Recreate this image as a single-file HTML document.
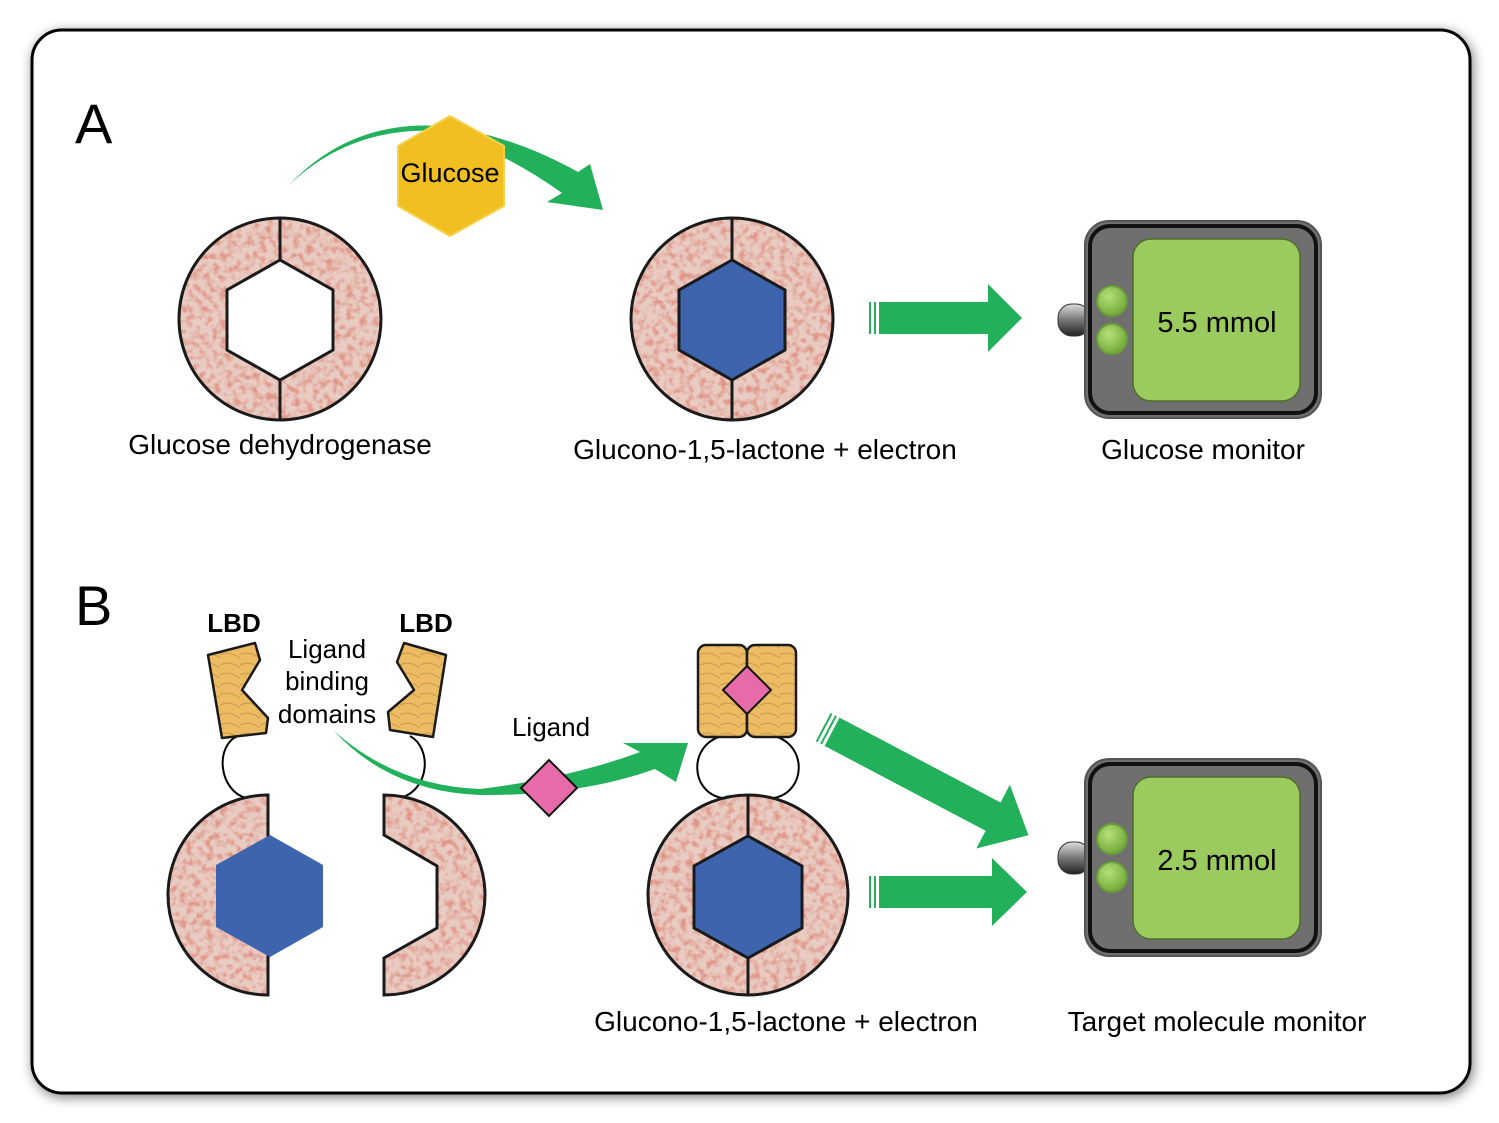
<!DOCTYPE html>
<html><head><meta charset="utf-8"><style>
html,body{margin:0;padding:0;background:#fff;}
svg{display:block;}
text{font-family:"Liberation Sans",Arial,sans-serif;fill:#000;}
</style></head><body>
<svg width="1499" height="1123" viewBox="0 0 1499 1123" xmlns="http://www.w3.org/2000/svg">
<defs>
<filter id="sh" x="-5%" y="-5%" width="110%" height="110%"><feGaussianBlur in="SourceAlpha" stdDeviation="6"/><feOffset dx="2" dy="3"/><feComponentTransfer><feFuncA type="linear" slope="0.5"/></feComponentTransfer><feMerge><feMergeNode/><feMergeNode in="SourceGraphic"/></feMerge></filter>
<filter id="tex" x="0" y="0" width="100%" height="100%"><feTurbulence type="fractalNoise" baseFrequency="0.15" numOctaves="2" seed="3"/><feColorMatrix type="matrix" values="0 0 0 0 0.75  0 0 0 0 0.30  0 0 0 0 0.24  0 0 0 -3 1.7"/></filter>
<pattern id="ring" patternUnits="userSpaceOnUse" width="1499" height="1123"><rect width="1499" height="1123" fill="#e8cbc2"/><rect width="1499" height="1123" fill="#c55c47" filter="url(#tex)"/></pattern>
<pattern id="lbd" patternUnits="userSpaceOnUse" width="20" height="20"><rect width="20" height="20" fill="#ecbb62"/><path d="M0 5 Q10 0 20 8 M0 15 Q8 10 20 18" stroke="#a07a40" stroke-width="1" fill="none" opacity="0.5"/></pattern>
<linearGradient id="plug" x1="0" y1="0" x2="0" y2="1"><stop offset="0" stop-color="#ddd"/><stop offset="0.5" stop-color="#777"/><stop offset="1" stop-color="#222"/></linearGradient>
<radialGradient id="btn" cx="0.4" cy="0.35" r="0.7"><stop offset="0" stop-color="#b6e07a"/><stop offset="1" stop-color="#6da533"/></radialGradient>
<g id="monitor">
<rect x="1058" y="83" width="32" height="32" rx="14" fill="url(#plug)" stroke="#333" stroke-width="1"/>
<rect x="1085" y="0" width="236" height="197" rx="24" fill="#6f6f6f" stroke="#555" stroke-width="2"/>
<rect x="1090" y="5" width="226" height="187" rx="20" fill="none" stroke="#111" stroke-width="4"/>
<rect x="1133" y="18" width="167" height="162" rx="18" fill="#9bcb5f" stroke="#4e6d2a" stroke-width="1.5"/>
<circle cx="1112" cy="80" r="15" fill="url(#btn)" stroke="#6a9c3a" stroke-width="2"/>
<circle cx="1112" cy="118" r="15" fill="url(#btn)" stroke="#6a9c3a" stroke-width="2"/>
</g>
</defs>

<rect x="32" y="30" width="1438" height="1063" rx="30" fill="#fff" stroke="#000" stroke-width="3" filter="url(#sh)"/>

<text x="75" y="143" font-size="56">A</text>
<text x="75" y="625" font-size="56">B</text>

<!-- A: ring 1 -->
<path d="M280,218 A101,101 0 1 1 280,420 A101,101 0 1 1 280,218 Z M280,260 L227,290 L227,350 L280,380 L333,350 L333,290 Z" fill="url(#ring)" fill-rule="evenodd" stroke="#1a1a1a" stroke-width="3"/>
<path d="M280,218 V260 M280,380 V420" stroke="#1a1a1a" stroke-width="3"/>

<!-- green curve A -->
<path d="M288,186 Q350,120 440,126 Q510,134 578,172 L590,164 L603,210 L547,202 L562,193 Q505,152 440,131 Q350,126 288,186 Z" fill="#22b05b"/>
<polygon points="450,116 504,146 504,206 450,236 398,206 398,146" fill="#f1bf22" stroke="#f5d24a" stroke-width="2"/>
<text x="450" y="182" font-size="27" text-anchor="middle">Glucose</text>

<!-- A: ring 2 -->
<path d="M732,218 A101,101 0 1 1 732,420 A101,101 0 1 1 732,218 Z" fill="url(#ring)" stroke="#1a1a1a" stroke-width="3"/>
<polygon points="732,260 679,290 679,350 732,380 785,350 785,290" fill="#3f64ae" stroke="#1a1a1a" stroke-width="3"/>
<path d="M732,218 V260 M732,380 V420" stroke="#1a1a1a" stroke-width="3"/>

<!-- arrow A -->
<path d="M879,302 H988 V284 L1022,318 L988,352 V334 H879 Z" fill="#22b05b"/>
<rect x="869" y="302" width="2" height="32" fill="#22b05b"/><rect x="874" y="302" width="2" height="32" fill="#22b05b"/>

<use href="#monitor" transform="translate(0,221)"/>
<text x="1217" y="332" font-size="29" text-anchor="middle">5.5 mmol</text>

<text x="280" y="454" font-size="28" text-anchor="middle">Glucose dehydrogenase</text>
<text x="765" y="459" font-size="28" text-anchor="middle">Glucono-1,5-lactone + electron</text>
<text x="1203" y="459" font-size="28" text-anchor="middle">Glucose monitor</text>

<!-- B left -->
<text x="234" y="632" font-size="26" font-weight="bold" text-anchor="middle">LBD</text>
<text x="426" y="632" font-size="26" font-weight="bold" text-anchor="middle">LBD</text>
<text x="327" y="658" font-size="26" text-anchor="middle">Ligand</text>
<text x="327" y="690" font-size="26" text-anchor="middle">binding</text>
<text x="327" y="723" font-size="26" text-anchor="middle">domains</text>

<path d="M238,736 C215,745 218,790 246,798" fill="none" stroke="#000" stroke-width="2"/>
<path d="M410,736 C432,748 430,790 400,798" fill="none" stroke="#000" stroke-width="2"/>

<polygon points="208,655 255,643 260,660 242,690 268,718 266,733 222,738" fill="url(#lbd)" stroke="#1a1a1a" stroke-width="2.5" stroke-linejoin="round"/>
<polygon points="404,643 446,655 433,737 390,730 388,712 414,690 397,662" fill="url(#lbd)" stroke="#1a1a1a" stroke-width="2.5" stroke-linejoin="round"/>

<path d="M268,795 A100,100 0 0 0 268,995 Z" fill="url(#ring)" stroke="#1a1a1a" stroke-width="3"/>
<polygon points="270,835 323,865 323,927 270,957 216,927 216,865" fill="#3f64ae"/>
<path d="M384,795 A101,100 0 0 1 384,995 L384,958 L437,928 L437,866 L384,835 Z" fill="url(#ring)" stroke="#1a1a1a" stroke-width="3"/>

<!-- ligand arrow -->
<path d="M333,730 Q390,792 480,795 Q580,796 655,769 L676,782 L688,743 L623,743 L640,752 Q570,778 480,789 Q395,786 333,730 Z" fill="#22b05b"/>
<polygon points="549,760 577,788 549,816 521,788" fill="#e76aa9" stroke="#111" stroke-width="2"/>
<text x="551" y="736" font-size="26" text-anchor="middle">Ligand</text>

<!-- bound complex -->
<path d="M722,736 C688,745 690,792 722,798" fill="none" stroke="#000" stroke-width="2"/>
<path d="M774,736 C808,745 806,792 774,798" fill="none" stroke="#000" stroke-width="2"/>
<rect x="698" y="645" width="49" height="92" rx="8" fill="url(#lbd)" stroke="#1a1a1a" stroke-width="2.5"/>
<rect x="747" y="645" width="49" height="92" rx="8" fill="url(#lbd)" stroke="#1a1a1a" stroke-width="2.5"/>
<polygon points="747,666 771,690 747,714 723,690" fill="#e76aa9" stroke="#111" stroke-width="2"/>
<circle cx="748" cy="895" r="100" fill="url(#ring)" stroke="#1a1a1a" stroke-width="3"/>
<polygon points="748,836 802,866 802,928 748,958 694,928 694,866" fill="#3f64ae" stroke="#1a1a1a" stroke-width="3"/>
<path d="M748,795 V836 M748,958 V995" stroke="#1a1a1a" stroke-width="3"/>

<!-- arrows B -->
<g transform="translate(825,728) rotate(27.8)">
<path d="M8,-16 H190 V-36 L230,0 L190,36 V16 H8 Z" fill="#22b05b"/>
<rect x="-2" y="-16" width="2" height="32" fill="#22b05b"/><rect x="3" y="-16" width="2" height="32" fill="#22b05b"/>
</g>
<path d="M879,876 H992 V858 L1027,892 L992,926 V908 H879 Z" fill="#22b05b"/>
<rect x="869" y="876" width="2" height="32" fill="#22b05b"/><rect x="874" y="876" width="2" height="32" fill="#22b05b"/>

<use href="#monitor" transform="translate(0,759)"/>
<text x="1217" y="870" font-size="29" text-anchor="middle">2.5 mmol</text>

<text x="786" y="1031" font-size="28" text-anchor="middle">Glucono-1,5-lactone + electron</text>
<text x="1217" y="1031" font-size="28" text-anchor="middle">Target molecule monitor</text>
</svg>
</body></html>
